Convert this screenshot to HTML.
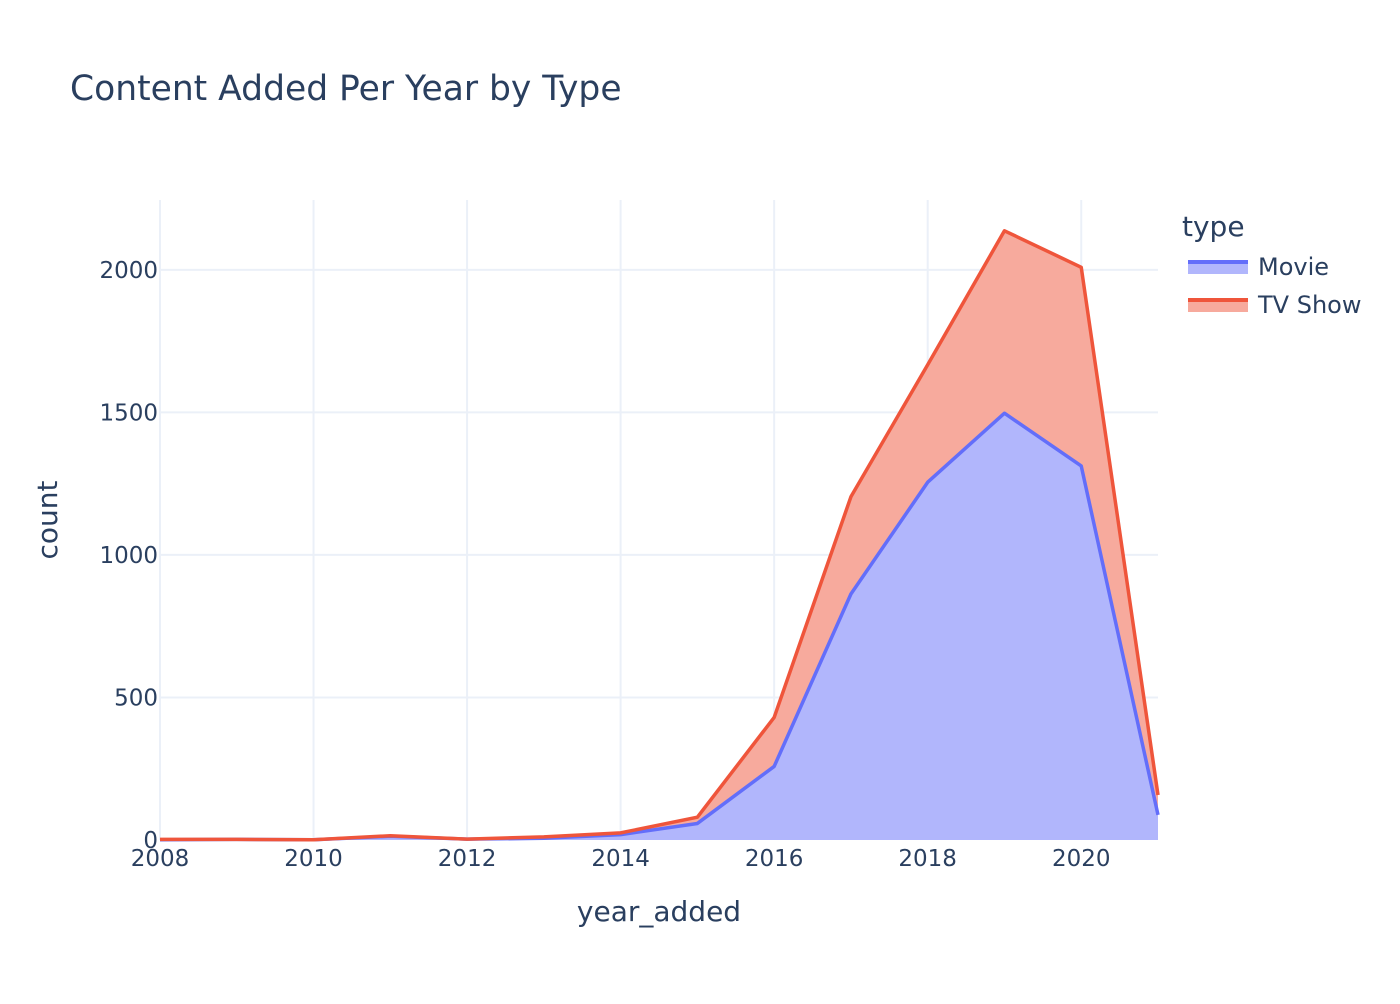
<!DOCTYPE html>
<html><head><meta charset="utf-8"><style>
body{margin:0;background:#fff;font-family:"DejaVu Sans",sans-serif}
svg text{font-family:"DejaVu Sans",sans-serif;fill:#2a3f5f}
</style></head><body>
<svg id="chart" width="1400" height="1000">
<text x="70" y="100" font-size="34.5">Content Added Per Year by Type</text>
<g id="grid"></g><g id="areas"></g><g id="axes"></g>
<text x="659" y="921" font-size="28" text-anchor="middle">year_added</text>
<text transform="translate(57,520) rotate(-90)" font-size="28" text-anchor="middle">count</text>
<g>
<text x="1182" y="236" font-size="28">type</text>
<g>
<rect x="1188" y="260" width="60" height="14" fill="#b1b6fc"/><line x1="1188" y1="262" x2="1248" y2="262" stroke="#636efa" stroke-width="4"/>
<text x="1258" y="275" font-size="24">Movie</text></g>
<g>
<rect x="1188" y="298" width="60" height="14" fill="#f7aa9d"/><line x1="1188" y1="300" x2="1248" y2="300" stroke="#ef553b" stroke-width="4"/>
<text x="1258" y="313" font-size="24">TV Show</text></g>
</g>
</svg>
<script>
const years=[2008,2009,2010,2011,2012,2013,2014,2015,2016,2017,2018,2019,2020,2021];
const movie=[1,2,1,13,3,6,19,58,258,863,1255,1497,1312,88];
const tvShow=[1,0,0,2,0,5,6,22,172,341,412,640,697,70];
const xTicks=[2008,2010,2012,2014,2016,2018,2020];
const yTicks=[0,500,1000,1500,2000];
const X0=160,X1=1158,Y0=840,Y1=200;
const xs=v=>X0+(v-2008)/(2021-2008)*(X1-X0);
const ys=v=>Y0-v/2245*(Y0-Y1);
const NS="http://www.w3.org/2000/svg";
function mk(t,a,p){const e=document.createElementNS(NS,t);for(const k in a)e.setAttribute(k,a[k]);p.appendChild(e);return e;}
const grid=document.getElementById('grid'),axes=document.getElementById('axes'),areas=document.getElementById('areas');
xTicks.forEach(t=>{
 const l=mk('line',{x1:xs(t),x2:xs(t),y1:Y1,y2:Y0,stroke:'#ebf0f8','stroke-width':2},grid);
 
 
 const tx=mk('text',{x:xs(t),y:866,'font-size':23,'text-anchor':'middle'},axes);tx.textContent=t;
 
 
});
yTicks.forEach(t=>{
 if(t>0){const l=mk('line',{x1:X0,x2:X1,y1:ys(t),y2:ys(t),stroke:'#ebf0f8','stroke-width':2},grid);
 
 }
 const tx=mk('text',{x:158,y:ys(t)+8,'font-size':23,'text-anchor':'end'},axes);tx.textContent=t;
 
 
});
const total=movie.map((m,i)=>m+tvShow[i]);
const pts=a=>a.map((v,i)=>xs(years[i])+','+ys(v));
const base=[xs(years[years.length-1])+','+ys(0),xs(years[0])+','+ys(0)];
const mp=pts(movie),tp=pts(total);
const tvArea=mk('polygon',{points:tp.concat(mp.slice().reverse()).join(' '),fill:'#f7aa9d'},areas);


const mArea=mk('polygon',{points:mp.concat(base).join(' '),fill:'#b1b6fc'},areas);


const ml=mk('polyline',{points:mp.join(' '),fill:'none',stroke:'#636efa','stroke-width':3.5,'stroke-linejoin':'round'},areas);


const tl=mk('polyline',{points:tp.join(' '),fill:'none',stroke:'#ef553b','stroke-width':3.5,'stroke-linejoin':'round'},areas);


</script>
</body></html>
